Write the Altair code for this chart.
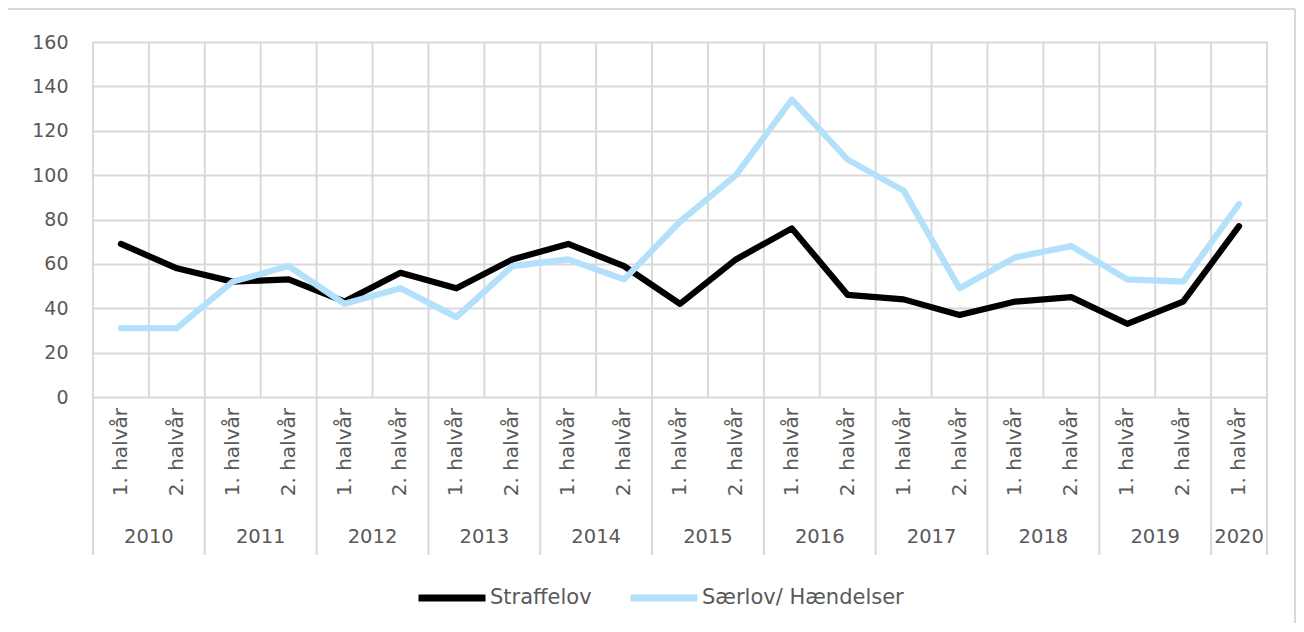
import altair as alt
import pandas as pd

years = ["2010", "2011", "2012", "2013", "2014", "2015", "2016", "2017", "2018", "2019", "2020"]
halves = ["1. halvår", "2. halvår"] * 10 + ["1. halvår"]
straffelov = [69, 58, 52, 53, 43, 56, 49, 62, 69, 59, 42, 62, 76, 46, 44, 37, 43, 45, 33, 43, 77]
saerlov = [31, 31, 52, 59, 42, 49, 36, 59, 62, 53, 79, 100, 134, 107, 93, 49, 63, 68, 53, 52, 87]
series_names = ["Straffelov", "Særlov/ Hændelser"]
y_ticks = [0, 20, 40, 60, 80, 100, 120, 140, 160]

W, H = 1174, 355
GRID = "#D9D9D9"
TXT = "#595959"
FONT = "DejaVu Sans"
n = len(halves)

rows = []
for name, vals in zip(series_names, [straffelov, saerlov]):
    for i, v in enumerate(vals):
        rows.append({"pos": i + 0.5, "value": v, "series": name, "ord": i})
df = pd.DataFrame(rows)

half_df = pd.DataFrame({"pos": [i + 0.5 for i in range(n)], "label": halves})
year_pos = []
for k, yname in enumerate(years):
    start = 2 * k
    end = min(2 * k + 2, n)
    year_pos.append({"pos": (start + end) / 2, "year": yname})
year_df = pd.DataFrame(year_pos)
grid_df = pd.DataFrame({"pos": list(range(n + 1))})
year_bound = pd.DataFrame({"pos": list(range(0, n, 2)) + [n]})

xs = alt.Scale(domain=[0, n], nice=False, zero=False)
ys = alt.Scale(domain=[0, 160], nice=False)

vgrid = alt.Chart(grid_df).mark_rule(color=GRID, strokeWidth=2).encode(
    x=alt.X("pos:Q", scale=xs, axis=None),
    y=alt.value(0), y2=alt.value(H),
)
ybounds = alt.Chart(year_bound).mark_rule(color=GRID, strokeWidth=2).encode(
    x=alt.X("pos:Q", scale=xs, axis=None),
    y=alt.value(H), y2=alt.value(H + 158),
)

lines = alt.Chart(df).mark_line(strokeWidth=6.2, strokeCap="round", strokeJoin="round").encode(
    x=alt.X("pos:Q", scale=xs, axis=None),
    y=alt.Y("value:Q", scale=ys, axis=alt.Axis(
        values=y_ticks, grid=True, gridColor=GRID, gridWidth=2, domain=False, ticks=False,
        labelFont=FONT, labelFontSize=19, labelColor=TXT, labelPadding=25, title=None)),
    color=alt.Color("series:N", scale=alt.Scale(domain=series_names, range=["#000000", "#B3E0FB"]),
                    legend=alt.Legend(title=None, orient="none", legendX=322, legendY=519,
                                      direction="horizontal", symbolType="stroke",
                                      symbolSize=4489, symbolStrokeWidth=7,
                                      labelFont=FONT, labelFontSize=21, labelColor=TXT,
                                      labelOffset=1, columnPadding=24, labelLimit=0)),
    order="ord:Q",
    detail="series:N",
)

half_text = alt.Chart(half_df).mark_text(angle=270, align="right", baseline="middle",
                                         font=FONT, fontSize=20, color=TXT).encode(
    x=alt.X("pos:Q", scale=xs, axis=None),
    y=alt.value(H + 11),
    text="label:N",
)
year_text = alt.Chart(year_df).mark_text(align="center", baseline="middle",
                                         font=FONT, fontSize=19.5, color=TXT).encode(
    x=alt.X("pos:Q", scale=xs, axis=None),
    y=alt.value(H + 140),
    text="year:N",
)

frame_df = pd.DataFrame({"k": [0]})
frame_left = alt.Chart(frame_df).mark_rule(color=GRID, strokeWidth=2).encode(
    x=alt.value(-86), y=alt.value(-33), y2=alt.value(H + 240))
frame_top = alt.Chart(frame_df).mark_rule(color=GRID, strokeWidth=2).encode(
    x=alt.value(-86), x2=alt.value(W + 28), y=alt.value(-33))
frame_right = alt.Chart(frame_df).mark_rule(color=GRID, strokeWidth=2).encode(
    x=alt.value(W + 28), y=alt.value(-33), y2=alt.value(H + 240))

chart = alt.layer(frame_left, frame_top, frame_right, vgrid, ybounds, lines, half_text, year_text).properties(
    width=W, height=H,
    autosize=alt.AutoSizeParams(type="none"),
    padding={"left": 85, "top": 34, "right": 29, "bottom": 226},
).configure_view(stroke=None)

chart.save("out.html", embed_options={"renderer": "svg", "actions": False})
